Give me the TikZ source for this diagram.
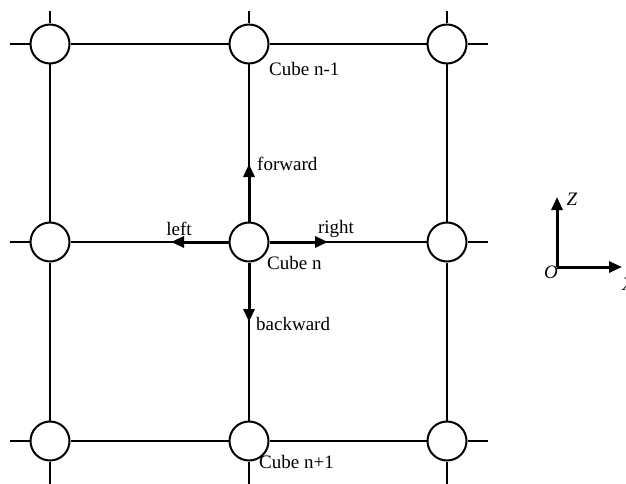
\documentclass[tikz,border=0pt]{standalone}
\usepackage{fontspec}
\setmainfont{Liberation Serif}
\usetikzlibrary{arrows.meta}
\tikzset{
	cube/.style={circle,draw,line width=2pt,minimum size=39pt,inner sep=0pt},
	link/.style={line width=2pt},
	move/.style={line width=3pt,-{Triangle[length=13pt,width=11pt]}},
	lbl/.style={font=\fontsize{19}{21}\selectfont,inner sep=0pt}
}
\begin{document}
\begin{tikzpicture}[x=1pt,y=-1pt]
		\useasboundingbox (0,0) rectangle (626,484);
		% cubes
		\node[cube] (c11) at (50,44) {};
		\node[cube] (c12) at (249,44) {};
		\node[cube] (c13) at (447,44) {};
		\node[cube] (c21) at (50,242) {};
		\node[cube] (c22) at (249,242) {};
		\node[cube] (c23) at (447,242) {};
		\node[cube] (c31) at (50,441) {};
		\node[cube] (c32) at (249,441) {};
		\node[cube] (c33) at (447,441) {};
		% grid
		\draw[link] (c11) -- (c12) (c12) -- (c13) (c21) -- (c22) (c22) -- (c23) (c31) -- (c32) (c32) -- (c33);
		\draw[link] (c11) -- (c21) (c21) -- (c31) (c12) -- (c22) (c22) -- (c32) (c13) -- (c23) (c23) -- (c33);
		% loose ends
		\coordinate (t1) at (50,11);
		\coordinate (t2) at (249,11);
		\coordinate (t3) at (447,11);
		\coordinate (b1) at (50,484);
		\coordinate (b2) at (249,484);
		\coordinate (b3) at (447,484);
		\coordinate (l1) at (10,44);
		\coordinate (l2) at (10,242);
		\coordinate (l3) at (10,441);
		\coordinate (r1) at (488,44);
		\coordinate (r2) at (488,242);
		\coordinate (r3) at (488,441);
		\draw[link] (t1) -- (c11) (t2) -- (c12) (t3) -- (c13);
		\draw[link] (b1) -- (c31) (b2) -- (c32) (b3) -- (c33);
		\draw[link] (l1) -- (c11) (l2) -- (c21) (l3) -- (c31);
		\draw[link] (r1) -- (c13) (r2) -- (c23) (r3) -- (c33);
		% moves
		\coordinate (fw) at (249,164);
		\coordinate (bw) at (249,322);
		\coordinate (lf) at (171,242);
		\coordinate (rt) at (328,242);
		\draw[move] (c22) -- (fw);
		\draw[move] (c22) -- (bw);
		\draw[move] (c22) -- (lf);
		\draw[move] (c22) -- (rt);
		\node[lbl,anchor=west] (tfw) at (257,164) {forward};
		\node[lbl,anchor=west] (tbw) at (256,324) {backward};
		\node[lbl] (tlf) at (179,229) {left};
		\node[lbl] (trt) at (336,229) {right};
		\node[lbl,anchor=west] (tn) at (267,263) {Cube n};
		\node[lbl,anchor=west] (tn1) at (269,69) {Cube n-1};
		\node[lbl,anchor=west] (tn2) at (259,462) {Cube n+1};
		% axes
		\coordinate (o) at (557,267);
		\coordinate (oz) at (557,197);
		\coordinate (ox) at (622,267);
		\draw[move] (o) -- (oz);
		\draw[move] (o) -- (ox);
		\node[lbl,font=\fontsize{19}{21}\selectfont\itshape] (tz) at (572,199) {Z};
		\node[lbl,font=\fontsize{19}{21}\selectfont\itshape] (to) at (551,272) {O};
		\node[lbl,font=\fontsize{19}{21}\selectfont\itshape] (tx) at (628,284) {X};
	\end{tikzpicture}
\end{document}
